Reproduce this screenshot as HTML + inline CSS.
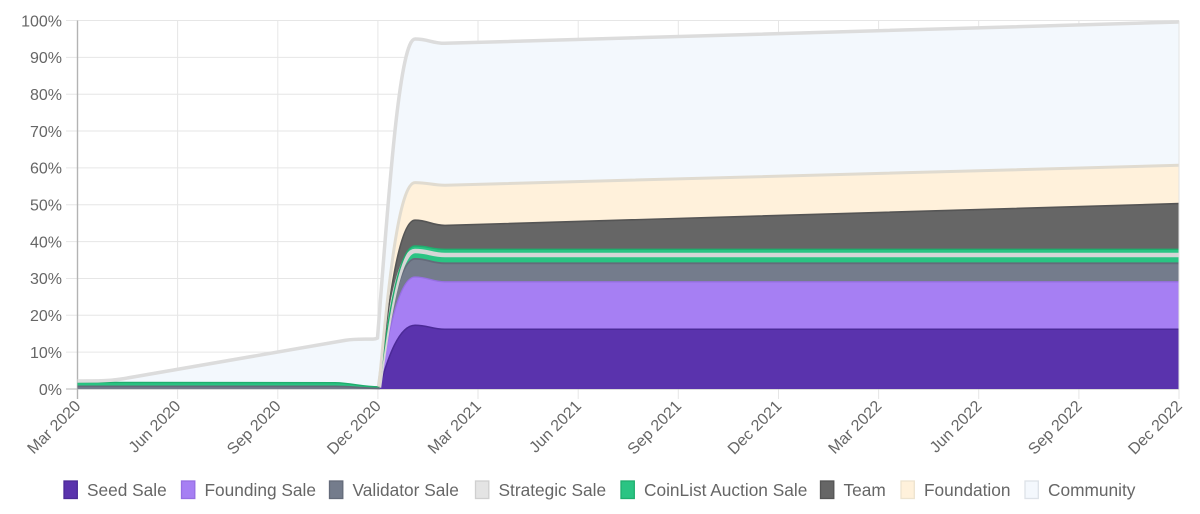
<!DOCTYPE html>
<html>
<head>
<meta charset="utf-8">
<style>
  html,body{margin:0;padding:0;background:#fff;}
  svg{display:block;}
  text{font-family:"Liberation Sans",Arial,sans-serif;fill:#666;}
</style>
</head>
<body>
<svg width="1200" height="514" viewBox="0 0 1200 514" xmlns="http://www.w3.org/2000/svg">
  <rect x="0" y="0" width="1200" height="514" fill="#fff"/>

  <!-- horizontal grid -->
  <g stroke="#e6e6e6" stroke-width="1">
    <line x1="66" y1="20.5" x2="1179" y2="20.5"/>
    <line x1="66" y1="57.35" x2="1179" y2="57.35"/>
    <line x1="66" y1="94.2" x2="1179" y2="94.2"/>
    <line x1="66" y1="131.05" x2="1179" y2="131.05"/>
    <line x1="66" y1="167.9" x2="1179" y2="167.9"/>
    <line x1="66" y1="204.75" x2="1179" y2="204.75"/>
    <line x1="66" y1="241.6" x2="1179" y2="241.6"/>
    <line x1="66" y1="278.45" x2="1179" y2="278.45"/>
    <line x1="66" y1="315.3" x2="1179" y2="315.3"/>
    <line x1="66" y1="352.15" x2="1179" y2="352.15"/>
  </g>
  <!-- vertical grid -->
  <g stroke="#e6e6e6" stroke-width="1">
    <line x1="177.6" y1="20.5" x2="177.6" y2="399"/>
    <line x1="277.8" y1="20.5" x2="277.8" y2="399"/>
    <line x1="377.9" y1="20.5" x2="377.9" y2="399"/>
    <line x1="478" y1="20.5" x2="478" y2="399"/>
    <line x1="578.2" y1="20.5" x2="578.2" y2="399"/>
    <line x1="678.3" y1="20.5" x2="678.3" y2="399"/>
    <line x1="778.5" y1="20.5" x2="778.5" y2="399"/>
    <line x1="878.6" y1="20.5" x2="878.6" y2="399"/>
    <line x1="978.7" y1="20.5" x2="978.7" y2="399"/>
    <line x1="1078.9" y1="20.5" x2="1078.9" y2="399"/>
    <line x1="1179" y1="20.5" x2="1179" y2="399"/>
  </g>
  <line x1="66" y1="389" x2="1179" y2="389" stroke="#c4c4c4" stroke-width="1.3"/>
  <line x1="77.5" y1="20.5" x2="77.5" y2="399" stroke="#b3b3b3" stroke-width="1.4"/>

  <!-- areas (fill to origin, largest first) -->
  <path d="M77.5,389 L77.5,381 L98,380.9 Q111,380.7 124,378.6 L345,340.4 C356,338.6 366,339.4 373,339.1 C375.5,339 376.5,338.6 377.5,338.1 C388,203.6 399,39 415,39 C428,39 432,43.3 445,43.3 L1179,22 L1179,389 Z" fill="#f3f8fd"/>
  <path d="M77.5,389 L77.5,382.4 L335,382.7 C352,383 362,386.8 379,386.8 C388,284.7 399,182.6 415,182.6 C428,182.6 432,185.2 445,185.2 L1179,165.3 L1179,389 Z" fill="#fff1db"/>
  <path d="M77.5,389 L77.5,382.4 L335,382.7 C352,383 362,386.8 379,386.8 C388,303.5 399,220.2 415,220.2 C428,220.2 432,225.4 445,225.4 L1179,203.6 L1179,389 Z" fill="#666666"/>
  <path d="M77.5,389 L77.5,382.4 L335,382.7 C352,383 362,386.8 379,386.8 C388,316.4 399,246 415,246 C428,246 432,249.3 445,249.3 L1179,249.3 L1179,389 Z" fill="#2ac483"/>
  <path d="M77.5,389 L77.5,386.4 L335,386.4 C352,386.4 362,388.3 379,388.3 C388,323.6 399,258.9 415,258.9 C428,258.9 432,263.3 445,263.3 L1179,263.3 L1179,389 Z" fill="#747c8c"/>
  <path d="M77.5,389 L379,389 C388,333 399,277 415,277 C428,277 432,281.8 445,281.8 L1179,281.8 L1179,389 Z" fill="#a67ff3"/>
  <path d="M77.5,389 L379,389 C388,357.1 399,325.2 415,325.2 C428,325.2 432,329.3 445,329.3 L1179,329.3 L1179,389 Z" fill="#5a33ad"/>

  <!-- border lines -->
  <g fill="none" stroke-linejoin="round">
    <path d="M379,389 C388,357.1 399,325.2 415,325.2 C428,325.2 432,329.3 445,329.3 L1179,329.3" stroke="#4b2a97" stroke-width="1.5"/>
    <path d="M379,389 C388,333 399,277 415,277 C428,277 432,281.8 445,281.8 L1179,281.8" stroke="#966fe3" stroke-width="1.3"/>
    <path d="M77.5,386.4 L335,386.4 C352,386.4 362,388.3 379,388.3 C388,323.6 399,258.9 415,258.9 C428,258.9 432,263.3 445,263.3 L1179,263.3" stroke="#646b7a" stroke-width="1.8"/>
    <path d="M379,387.5 C388,319.3 399,251 415,251 C428,251 432,255 445,255 L1179,255" stroke="#d6d6d6" stroke-width="4.5"/>
    <path d="M77.5,382.4 L335,382.7 C352,383 362,386.8 379,386.8 C388,316.4 399,246 415,246 C428,246 432,249.3 445,249.3 L1179,249.3" stroke="#1fae6e" stroke-width="1.4"/>
    <path d="M379,386.8 C388,303.5 399,220.2 415,220.2 C428,220.2 432,225.4 445,225.4 L1179,203.6" stroke="#555555" stroke-width="1.6"/>
    <path d="M379,386.8 C388,284.7 399,182.6 415,182.6 C428,182.6 432,185.2 445,185.2 L1179,165.3" stroke="#e0dbd0" stroke-width="3"/>
    <path d="M77.5,381 L98,380.9 Q111,380.7 124,378.6 L345,340.4 C356,338.6 366,339.4 373,339.1 C375.5,339 376.5,338.6 377.5,338.1 C388,203.6 399,39 415,39 C428,39 432,43.3 445,43.3 L1179,22" stroke="#dcdcdc" stroke-width="3.5"/>
  </g>
  <line x1="1179" y1="22" x2="1179" y2="389" stroke="#e3e3e3" stroke-width="1"/>

  <!-- y labels -->
  <g font-size="16" text-anchor="end">
    <text x="62" y="26.3">100%</text>
    <text x="62" y="63.1">90%</text>
    <text x="62" y="100">80%</text>
    <text x="62" y="136.8">70%</text>
    <text x="62" y="173.7">60%</text>
    <text x="62" y="210.5">50%</text>
    <text x="62" y="247.4">40%</text>
    <text x="62" y="284.2">30%</text>
    <text x="62" y="321.1">20%</text>
    <text x="62" y="357.9">10%</text>
    <text x="62" y="394.8">0%</text>
  </g>

  <!-- x labels -->
  <g font-size="16" text-anchor="end">
    <text x="81.5" y="407" transform="rotate(-45 81.5 407)">Mar 2020</text>
    <text x="181.6" y="407" transform="rotate(-45 181.6 407)">Jun 2020</text>
    <text x="281.8" y="407" transform="rotate(-45 281.8 407)">Sep 2020</text>
    <text x="381.9" y="407" transform="rotate(-45 381.9 407)">Dec 2020</text>
    <text x="482" y="407" transform="rotate(-45 482 407)">Mar 2021</text>
    <text x="582.2" y="407" transform="rotate(-45 582.2 407)">Jun 2021</text>
    <text x="682.3" y="407" transform="rotate(-45 682.3 407)">Sep 2021</text>
    <text x="782.5" y="407" transform="rotate(-45 782.5 407)">Dec 2021</text>
    <text x="882.6" y="407" transform="rotate(-45 882.6 407)">Mar 2022</text>
    <text x="982.7" y="407" transform="rotate(-45 982.7 407)">Jun 2022</text>
    <text x="1082.9" y="407" transform="rotate(-45 1082.9 407)">Sep 2022</text>
    <text x="1183" y="407" transform="rotate(-45 1183 407)">Dec 2022</text>
  </g>

  <!-- legend -->
  <g stroke-width="1.3">
    <rect x="64" y="481" width="13.3" height="17.5" fill="#5a33ad" stroke="#4b2a97"/>
    <rect x="181.5" y="481" width="13.3" height="17.5" fill="#a67ff3" stroke="#966fe3"/>
    <rect x="329.5" y="481" width="13.3" height="17.5" fill="#747c8c" stroke="#646b7a"/>
    <rect x="475.5" y="481" width="13.3" height="17.5" fill="#e4e4e4" stroke="#cfcfcf"/>
    <rect x="621" y="481" width="13.3" height="17.5" fill="#2ac483" stroke="#1fae6e"/>
    <rect x="820.5" y="481" width="13.3" height="17.5" fill="#666666" stroke="#555555"/>
    <rect x="901" y="481" width="13.3" height="17.5" fill="#fff1db" stroke="#ede3cf"/>
    <rect x="1025" y="481" width="13.3" height="17.5" fill="#f4f8fd" stroke="#dde2e8"/>
  </g>
  <g font-size="17.3">
    <text x="87" y="495.8">Seed Sale</text>
    <text x="204.5" y="495.8">Founding Sale</text>
    <text x="352.5" y="495.8">Validator Sale</text>
    <text x="498.5" y="495.8">Strategic Sale</text>
    <text x="644" y="495.8">CoinList Auction Sale</text>
    <text x="843.5" y="495.8">Team</text>
    <text x="924" y="495.8">Foundation</text>
    <text x="1048" y="495.8">Community</text>
  </g>
</svg>
</body>
</html>
